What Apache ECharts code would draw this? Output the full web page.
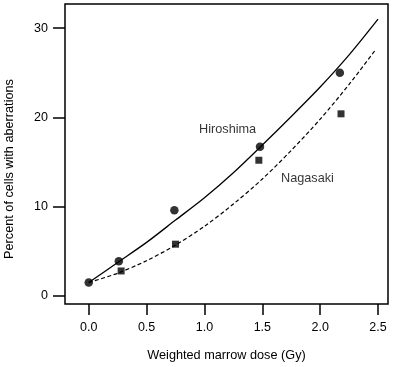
<!DOCTYPE html>
<html>
<head>
<meta charset="utf-8">
<script src="https://cdn.jsdelivr.net/npm/echarts@6/dist/echarts.min.js"></script>
<style>html,body{margin:0;padding:0;background:#fff}#c{width:394px;height:367px}</style>
</head>
<body>
<div id="c"></div>
<script>
// Observed data points
const hiroPoints = [[0, 1.5], [0.26, 3.9], [0.74, 9.6], [1.48, 16.7], [2.17, 25.0]];
const nagaPoints = [[0.28, 2.8], [0.75, 5.8], [1.47, 15.2], [2.18, 20.4]];
// Fitted curves
const hiroCurveX = [0, 0.25, 0.5, 0.75, 1.0, 1.25, 1.5, 1.75, 2.0, 2.25, 2.5];
const hiroCurveY = [1.5, 3.75, 6.0, 8.5, 11.0, 13.8, 16.9, 20.1, 23.4, 27.0, 31.0];
const nagaCurveX = [0, 0.25, 0.5, 0.75, 1.0, 1.25, 1.5, 1.75, 2.0, 2.25, 2.48];
const nagaCurveY = [1.5, 2.55, 3.95, 5.7, 7.8, 10.3, 13.1, 16.3, 19.8, 23.7, 27.6];
// Ticks
const xTicks = [0, 0.5, 1.0, 1.5, 2.0, 2.5];
const yTicks = [0, 10, 20, 30];
// Curve labels
const curveLabels = [["Hiroshima", 1.20, 18.7], ["Nagasaki", 1.89, 13.2]];

const FONT = '"Liberation Sans", Arial, Helvetica, sans-serif';
const chart = echarts.init(document.getElementById('c'), null, {renderer: 'canvas'});
const zip = (xs, ys) => xs.map((x, i) => [x, ys[i]]);

chart.setOption({
  animation: false,
  grid: {left: 65, top: 4, right: 6, bottom: 60, show: true, borderColor: '#000', borderWidth: 1.5, backgroundColor: 'transparent'},
  xAxis: {
    type: 'value', min: -0.205, max: 2.586,
    axisLine: {show: false, onZero: false}, splitLine: {show: false},
    axisTick: {show: true, customValues: xTicks, length: 11, lineStyle: {color: '#000', width: 1.5}},
    axisLabel: {customValues: xTicks, margin: 17, color: '#000', fontSize: 12.5, fontFamily: FONT, formatter: v => v.toFixed(1)},
    name: 'Weighted marrow dose (Gy)', nameLocation: 'middle', nameGap: 45,
    nameTextStyle: {color: '#000', fontSize: 12.7, fontFamily: FONT}
  },
  yAxis: {
    type: 'value', min: -0.9, max: 32.7,
    axisLine: {show: false, onZero: false}, splitLine: {show: false},
    axisTick: {show: true, customValues: yTicks, length: 12, lineStyle: {color: '#000', width: 1.5}},
    axisLabel: {customValues: yTicks, margin: 17, color: '#000', fontSize: 12.5, fontFamily: FONT}
  },
  graphic: [{
    type: 'text', x: 9, y: 169, rotation: Math.PI / 2,
    style: {text: 'Percent of cells with aberrations', fill: '#000', font: '12.7px ' + FONT, textAlign: 'center', textVerticalAlign: 'middle'}
  }],
  series: [
    {type: 'line', data: zip(hiroCurveX, hiroCurveY), smooth: 0.3, symbol: 'none',
     lineStyle: {color: '#000', width: 1.3}, z: 2},
    {type: 'line', data: zip(nagaCurveX, nagaCurveY), smooth: 0.3, symbol: 'none',
     lineStyle: {color: '#000', width: 1.2, type: [4, 2.5]}, z: 2},
    {type: 'scatter', data: hiroPoints, symbol: 'circle', symbolSize: 8.5, itemStyle: {color: '#000'}, z: 3},
    {type: 'scatter', data: nagaPoints, symbol: 'rect', symbolSize: 7, itemStyle: {color: '#000'}, z: 3},
    {type: 'scatter', data: curveLabels.map(d => ({value: [d[1], d[2]], name: d[0]})), symbolSize: 0, silent: true,
     label: {show: true, position: 'inside', formatter: p => p.name, color: '#000', fontSize: 12.7, fontFamily: FONT}}
  ]
});
</script>
</body>
</html>
